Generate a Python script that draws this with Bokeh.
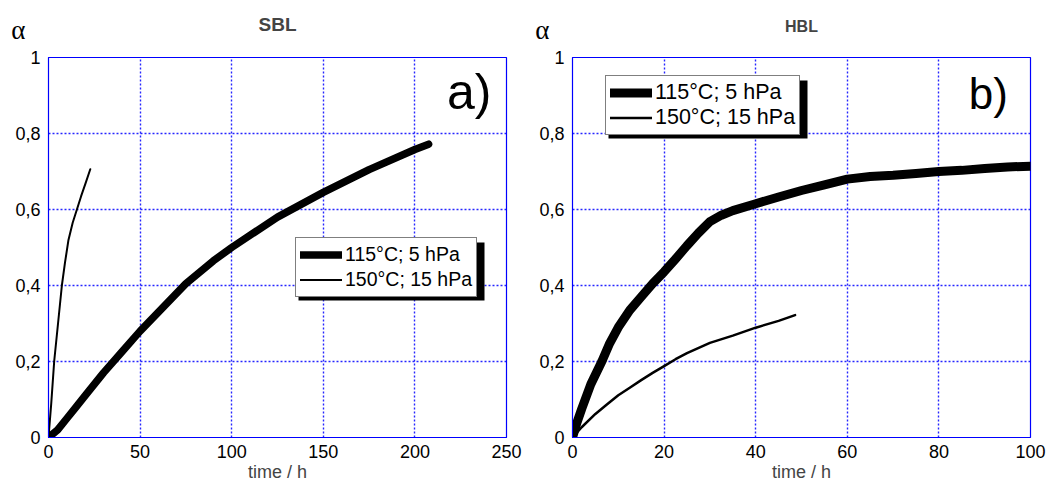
from bokeh.plotting import figure
from bokeh.models import Range1d, FixedTicker, Legend, LegendItem, Label, LinearAxis
from bokeh.layouts import row
from bokeh.embed import file_html
from bokeh.resources import INLINE

# ---------------- data ----------------
sbl_115_t = [0, 5, 10, 15, 20, 30, 40, 50, 60, 75, 90, 100, 125, 150, 175, 200, 207.5]
sbl_115_a = [0, 0.02, 0.05, 0.08, 0.11, 0.17, 0.225, 0.28, 0.33, 0.405, 0.465, 0.50, 0.58, 0.645, 0.705, 0.758, 0.772]

sbl_150_t = [0, 1.5, 3.1, 5.2, 7.3, 9, 10.9, 13.2, 15.5, 17.8, 20.3, 22.8]
sbl_150_a = [0, 0.09, 0.2, 0.3, 0.4, 0.46, 0.52, 0.565, 0.6, 0.635, 0.67, 0.706]

hbl_115_t = [0, 1, 2, 4, 6.4, 8, 10, 12.5, 15, 17.5, 20, 22.5, 25, 27.5, 30, 32.5, 35, 40, 45, 50,
             55, 60, 65, 70, 75, 80, 85, 90, 95, 100]
hbl_115_a = [0, 0.04, 0.075, 0.14, 0.2, 0.245, 0.29, 0.335, 0.37, 0.405, 0.436, 0.47, 0.505, 0.538, 0.568,
             0.585, 0.597, 0.615, 0.633, 0.65, 0.665, 0.68, 0.687, 0.69, 0.695, 0.70, 0.703, 0.708, 0.712, 0.714]

hbl_150_t = [0, 2, 5, 7.5, 10, 12.5, 15, 17.5, 20, 22.5, 25, 30, 35, 40, 45, 48.6]
hbl_150_a = [0, 0.027, 0.062, 0.087, 0.111, 0.131, 0.151, 0.17, 0.188, 0.206, 0.222, 0.249, 0.268, 0.289, 0.307, 0.322]

series_labels = ["115°C; 5 hPa", "150°C; 15 hPa"]
panel_titles = ["SBL", "HBL"]
panel_tags = ["a)", "b)"]
sbl_xticks = [0, 50, 100, 150, 200, 250]
hbl_xticks = [0, 20, 40, 60, 80, 100]
y_ticks = [0, 0.2, 0.4, 0.6, 0.8, 1]
y_tick_labels = ["0", "0,2", "0,4", "0,6", "0,8", "1"]
x_label = "time / h"
y_symbol = "α"

FONT = "Liberation Sans"
FRAME_W, FRAME_H = 458, 380


def panel(xmax, xticks, t1, a1, t2, a2, w1, w2, title, title_size, title_standoff,
          tag, tag_size, tag_pos, leg_px, leg_font, leg_row, border_right):
    p = figure(frame_width=FRAME_W, frame_height=FRAME_H,
               x_range=Range1d(0, xmax), y_range=Range1d(0, 1),
               output_backend="svg", toolbar_location=None,
               min_border_left=48, min_border_right=border_right,
               min_border_top=57, min_border_bottom=53)
    p.background_fill_color = "white"
    p.border_fill_color = "white"
    p.outline_line_color = "#0000ff"
    p.outline_line_width = 1.2

    # title: a trailing empty line lifts the text away from the frame
    p.title.text = title + "\n"
    p.title.align = "center"
    p.title.text_font = FONT
    p.title.text_font_size = title_size
    p.title.text_font_style = "bold"
    p.title.text_line_height = 1.0
    p.title.standoff = title_standoff

    p.xaxis.ticker = FixedTicker(ticks=xticks)
    p.yaxis.ticker = FixedTicker(ticks=y_ticks)
    p.yaxis.major_label_overrides = {v: s for v, s in zip(y_ticks, y_tick_labels)}
    for ax in (p.xaxis, p.yaxis):
        ax.axis_line_color = "#0000ff"
        ax.major_tick_line_color = None
        ax.minor_tick_line_color = None
        ax.major_tick_out = 0
        ax.major_tick_in = 0
        ax.minor_tick_out = 0
        ax.major_label_text_font = FONT
        ax.major_label_text_font_size = "18px"
        ax.major_label_text_color = "black"
    p.xaxis.major_label_standoff = 7
    p.yaxis.major_label_standoff = 8
    p.xaxis.axis_label = x_label
    p.xaxis.axis_label_text_font = FONT
    p.xaxis.axis_label_text_font_size = "18px"
    p.xaxis.axis_label_text_font_style = "normal"
    p.xaxis.axis_label_standoff = 1

    for g in (p.xgrid, p.ygrid):
        g.grid_line_color = "#0000ff"
        g.grid_line_alpha = 0.85
        g.grid_line_dash = "2 2"
        g.grid_line_width = 1.4

    # "α" symbol above the y axis: label of the top tick of a second, bare left axis,
    # lifted above the frame by an empty second text line
    top = y_ticks[-1]
    a_axis = LinearAxis(ticker=FixedTicker(ticks=[top]),
                        major_label_overrides={top: y_symbol + "\n"})
    a_axis.axis_line_color = None
    a_axis.major_tick_line_color = None
    a_axis.minor_tick_line_color = None
    a_axis.major_tick_out = 0
    a_axis.major_tick_in = 0
    a_axis.minor_tick_out = 0
    a_axis.major_label_text_font = "Liberation Serif"
    a_axis.major_label_text_font_size = "27px"
    a_axis.major_label_text_line_height = 1.82
    a_axis.major_label_text_color = "black"
    a_axis.major_label_standoff = -13
    p.add_layout(a_axis, "left")

    r1 = p.line(t1, a1, line_width=w1, line_color="black", line_join="round", line_cap="round")
    r2 = p.line(t2, a2, line_width=w2, line_color="black", line_join="round", line_cap="round")

    # legend shadow (pixel box converted to data units)
    lx, ly, lw, lh = leg_px
    sx = FRAME_W / xmax
    sy = FRAME_H / 1.0
    p.quad(left=[(lx + 3) / sx], right=[(lx + lw + 3) / sx],
           bottom=[(ly - 3) / sy], top=[(ly + lh - 3) / sy],
           fill_color="black", line_color=None)

    legend = Legend(items=[LegendItem(label=series_labels[0], renderers=[r1]),
                           LegendItem(label=series_labels[1], renderers=[r2])],
                    location=(lx, ly))
    legend.label_text_font = FONT
    legend.label_text_font_size = leg_font
    legend.label_text_color = "black"
    legend.border_line_color = "black"
    legend.border_line_width = 1.5
    legend.background_fill_color = "white"
    legend.background_fill_alpha = 1.0
    legend.padding = 4
    legend.margin = 0
    legend.spacing = 0
    legend.glyph_width = 42
    legend.glyph_height = leg_row
    legend.label_height = leg_row
    legend.label_standoff = 3
    p.add_layout(legend)

    p.add_layout(Label(x=tag_pos[0], y=tag_pos[1], text=tag, text_font=FONT,
                       text_font_size=tag_size, text_color="black",
                       text_baseline="alphabetic", text_align="left"))
    return p


p1 = panel(250, sbl_xticks, sbl_115_t, sbl_115_a, sbl_150_t, sbl_150_a, 7.5, 2,
           panel_titles[0], "19px", 4, panel_tags[0], "50px", (217.5, 0.908),
           (247, 140, 186, 58), "19.5px", 25, 18)
p2 = panel(100, hbl_xticks, hbl_115_t, hbl_115_a, hbl_150_t, hbl_150_a, 9, 2.5,
           panel_titles[1], "16px", 11, panel_tags[1], "44px", (86.5, 0.905),
           (33, 302, 199, 58), "21.5px", 25, 20)

layout = row(p1, p2)
open("out.html", "w").write(file_html(layout, INLINE))
